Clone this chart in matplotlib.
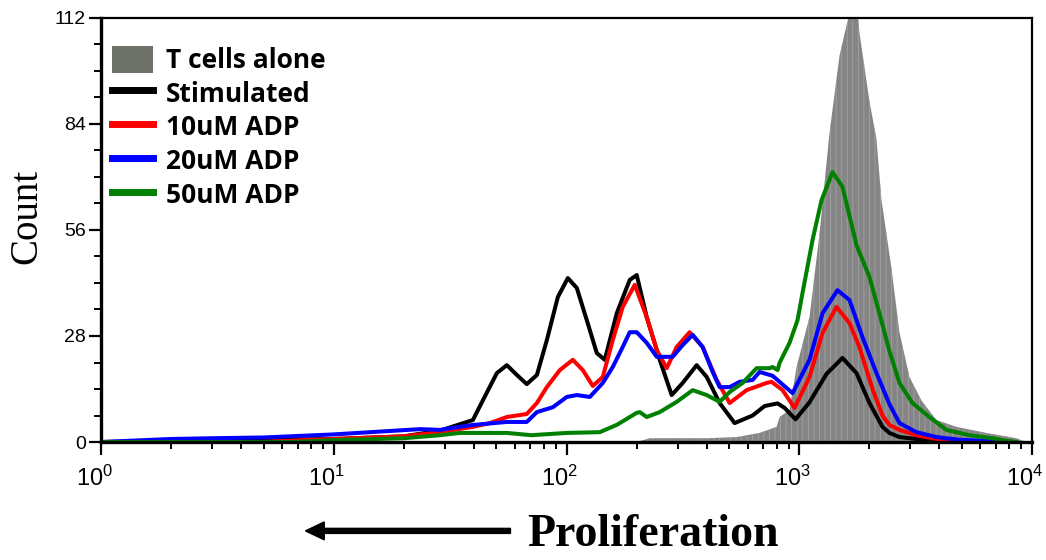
#
# CFSE proliferation histogram, T cells with ADP
#
import numpy as np
import matplotlib.pyplot as plt
from matplotlib.patches import Patch, FancyArrow
from matplotlib.lines import Line2D
from matplotlib.transforms import ScaledTranslation
from matplotlib.ticker import MultipleLocator, LogLocator, NullFormatter

# Data (fluorescence, count)
alone_x = [200, 227.8, 400, 538, 675.5, 799, 823, 908.6, 973.7, 1107, 1222, 1349, 1489,
           1596, 1644, 1694, 1779, 1815, 2003, 2147, 2255, 2489, 2695, 2975, 3348, 3885,
           4733, 6366, 8563, 9452]
alone_y = [0, 1.0, 1.0, 1.3, 2.4, 4.0, 6.6, 8.5, 19.8, 33, 55, 81.6, 102,
           110, 113, 114, 114, 108, 90, 80, 64, 46, 29, 17.2, 11, 5.8,
           4.0, 2.4, 1.0, 0]

stim_x = [1, 10, 20, 28.6, 39.6, 43.7, 50.2, 55.4, 61.2, 67.5, 74.6, 82.3, 91.8, 101.3,
          110.7, 122.2, 134.9, 146, 164.4, 186.9, 200.3, 221.1, 251.5, 283.1, 315.6, 362.4,
          400.1, 455, 527.6, 630.4, 710, 807, 865, 964, 1107, 1310, 1534, 1762, 2003,
          2278, 2441, 2695, 3519, 4200]
stim_y = [0, 0.8, 1.5, 3.0, 5.8, 11, 18.2, 20.3, 17.7, 15.3, 17.7, 26.9, 38.3, 43.3,
          40.7, 32.2, 23.5, 21.7, 34, 42.8, 44.1, 33, 21.7, 12.4, 15.6, 20.3,
          17.2, 10.3, 5.0, 7.0, 9.5, 10.2, 9.0, 6.0, 10.5, 18, 22.2, 18.2, 10.3,
          4.0, 2.4, 1.3, 0.5, 0]

adp10_x = [1, 4.7, 10, 20, 28.6, 39.6, 46.9, 55.4, 67.5, 74.6, 82.3, 93.6, 106.4, 117.5,
           129.7, 143.2, 158, 174.4, 196.4, 221.1, 244.2, 269.5, 297.4, 338.1, 384.6,
           441.7, 502.2, 594, 723.8, 760, 848, 954.6, 1107, 1259, 1446, 1644, 1815,
           2064, 2278, 2441, 2695, 3187, 3885, 4876, 6000]
adp10_y = [0, 0, 0.8, 1.5, 2.6, 4.0, 5.0, 6.6, 7.4, 10.3, 14.5, 19, 21.7, 19,
           14.8, 17.2, 26.9, 35.7, 41.5, 33, 24.3, 19.5, 25.1, 29, 25.1,
           16.4, 10.3, 13.7, 15.6, 15.9, 13.7, 9.0, 17.2, 28.8, 35.7, 31.4, 25,
           14, 7.0, 4.5, 3.2, 1.8, 0.8, 0.3, 0]

adp20_x = [1, 2.0, 3.0, 5, 9.93, 23.5, 28.6, 34.8, 39.6, 55.4, 67.5, 74.6, 87.4, 100.3,
           110.7, 125.9, 143.2, 158, 174.4, 186.9, 200.3, 221.1, 244.2, 269.5, 285.9,
           315.6, 348.4, 384.6, 424.6, 455, 502.2, 554.3, 630.4, 675.5, 768, 936, 1107,
           1259, 1460, 1644, 1869, 2147, 2441, 2695, 3187, 3885, 4876, 6754, 8000]
adp20_y = [0, 0.8, 1.0, 1.2, 2.0, 3.4, 3.2, 4.0, 4.5, 5.3, 5.3, 7.9, 9.2, 11.9,
           12.4, 11.9, 15.6, 19.8, 25.1, 29, 29, 26.2, 22.5, 22.5, 22.5,
           25.6, 28.3, 25.1, 18.5, 14.5, 14.5, 15.9, 16.4, 18.5, 17.5, 12.9, 21.7,
           34, 40.1, 37.5, 27.7, 18.2, 10, 5.0, 2.6, 1.3, 0.6, 0.2, 0]

adp50_x = [1, 6.7, 10, 20, 28.6, 34.8, 39.6, 55.4, 70.6, 100.3, 139, 164, 169.3, 200.3,
           206.3, 221.1, 251.5, 297.4, 348.4, 400.1, 455, 502.2, 571, 655.8, 745.5, 768,
           807, 823, 908.6, 983.3, 1033, 1141, 1247, 1390, 1534, 1762, 2003, 2278, 2441,
           2695, 3065, 3625, 4288, 5381, 6754, 7458, 8563]
adp50_y = [0, 0, 0.5, 1.0, 1.8, 2.4, 2.4, 2.4, 1.8, 2.4, 2.6, 4.5, 5.0, 7.7,
           7.9, 6.6, 7.9, 10.6, 13.7, 12.4, 10.6, 13.2, 15.6, 19.5, 19.5, 19.8,
           19.0, 20.9, 26.2, 32.2, 39.4, 53.4, 63.9, 71.3, 67.4, 52, 43.6, 31, 24,
           15.6, 10.3, 6.6, 3.2, 1.8, 1.0, 0.5, 0]

labels = ['T cells alone', 'Stimulated', '10uM ADP', '20uM ADP', '50uM ADP']
colors = ['#6f7268', 'black', '#ff0000', '#0000ff', '#008000']

plt.rcParams['hatch.linewidth'] = 0.6
fig = plt.figure(figsize=(10.46, 5.6), dpi=100)
ax = fig.add_axes([0.0966, 0.2107, 0.8900, 0.7572])

# Plotting
ax.fill_between(alone_x, alone_y, facecolor='#858585', edgecolor='#a3a3a3', hatch='|||',
                lw=0, zorder=1)
series = [(stim_x, stim_y), (adp10_x, adp10_y), (adp20_x, adp20_y), (adp50_x, adp50_y)]
for (xs, ys), c in zip(series, colors[1:]):
    ax.plot(xs, ys, color=c, lw=2.9, zorder=2)

ax.set_xscale('log')
ax.set_xlim(1, 1e4)
ax.set_ylim(0, 112)
ax.yaxis.set_major_locator(MultipleLocator(28))
ax.yaxis.set_minor_locator(MultipleLocator(7))
ax.xaxis.set_major_locator(LogLocator(base=10, numticks=10))
ax.xaxis.set_minor_locator(LogLocator(base=10, subs=np.arange(2, 10), numticks=20))
ax.xaxis.set_minor_formatter(NullFormatter())

for s in ['left', 'bottom']:
    ax.spines[s].set_linewidth(2.4)
for s in ['top', 'right']:
    ax.spines[s].set_linewidth(1.6)
ax.tick_params(which='major', length=9, width=1.6)
ax.tick_params(which='minor', length=5, width=1.4)
ax.tick_params(axis='x', which='major', pad=8, labelsize=17)
ax.tick_params(axis='y', which='major', pad=2, labelsize=14)
shift = ScaledTranslation(-7 / 100, 0, fig.dpi_scale_trans)
for lab in ax.get_xticklabels():
    lab.set_fontfamily('Liberation Sans')
    lab.set_transform(lab.get_transform() + shift)
for lab in ax.get_yticklabels():
    lab.set_fontfamily('Liberation Sans')

ax.set_ylabel('Count', fontsize=28, family='Liberation Serif')
ax.yaxis.set_label_coords(-0.060, 0.533)

# Legend
handles = [Patch(facecolor=colors[0], edgecolor='none')]
handles += [Line2D([], [], color=c, lw=5) for c in colors[1:]]
ax.legend(handles, labels, loc='upper left', bbox_to_anchor=(0.012, 0.935), frameon=False,
          prop={'family': 'Open Sans', 'weight': 'bold', 'size': 19},
          handlelength=1.55, handleheight=1.2, handletextpad=0.5, labelspacing=0.2,
          borderaxespad=0.0, borderpad=0.0)

# Proliferation arrow and label
fig.text(0.624, 0.044, 'Proliferation', fontsize=33, fontweight='bold',
         family='Liberation Serif', ha='center', va='center')
fig.patches.append(FancyArrow(
    0.488, 0.052, -0.196, 0, width=0.009, head_width=0.032, head_length=0.018,
    color='black', transform=fig.transFigure, length_includes_head=True))

plt.savefig('out.png', dpi=100)
plt.close()
